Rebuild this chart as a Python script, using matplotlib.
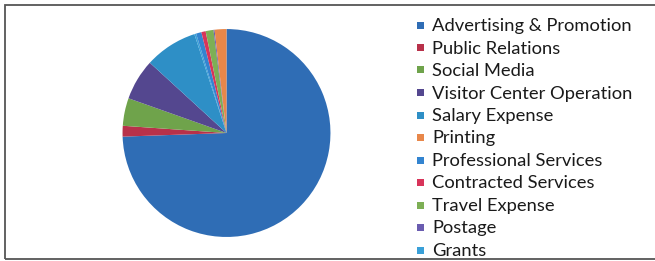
import matplotlib
matplotlib.use("Agg")
import matplotlib.pyplot as plt
from matplotlib.patches import Rectangle

# Legend order (categories) and their colors
categories = ["Advertising & Promotion", "Public Relations", "Social Media",
              "Visitor Center Operation", "Salary Expense", "Printing",
              "Professional Services", "Contracted Services", "Travel Expense",
              "Postage", "Grants"]
colors = ["#2F6DB5", "#B8314A", "#6FA34B", "#54478F", "#2E8FC6", "#E8874A",
          "#3384D0", "#D8345A", "#7DAF55", "#6A5CB0", "#3AA0D8"]
# Values in degrees-share
values = {"Advertising & Promotion": 268.0, "Public Relations": 6.0,
          "Social Media": 15.5, "Visitor Center Operation": 23.0,
          "Salary Expense": 29.5, "Grants": 1.0, "Professional Services": 3.0,
          "Contracted Services": 2.4, "Travel Expense": 4.4, "Postage": 0.6,
          "Printing": 6.6}
# order of slices clockwise from 12 o'clock as seen in the chart
pie_order = ["Advertising & Promotion", "Public Relations", "Social Media",
             "Visitor Center Operation", "Salary Expense", "Grants",
             "Professional Services", "Contracted Services", "Travel Expense",
             "Postage", "Printing"]

W, H = 655, 261
fig = plt.figure(figsize=(W / 100, H / 100), dpi=100)
fig.patch.set_facecolor("white")

cmap = dict(zip(categories, colors))
ax = fig.add_axes([0.1855, 0.0881, 0.3206, 0.8046])
ax.pie([values[c] for c in pie_order], colors=[cmap[c] for c in pie_order],
       startangle=90, counterclock=False, radius=1.0,
       wedgeprops=dict(linewidth=0))
ax.set_xlim(-1.01, 1.01)
ax.set_ylim(-1.01, 1.01)
ax.set_aspect("auto")
ax.axis("off")

# Chart border
fig.add_artist(Rectangle((5 / W, 1 - 259 / H), (W + 10) / W, (259 - 4.5) / H,
                         transform=fig.transFigure, fill=False,
                         edgecolor="#555555", linewidth=1.3, clip_on=False))

# Legend
y0, dy = 25, 22.5
for i, (lab, col) in enumerate(zip(categories, colors)):
    y = y0 + i * dy
    fig.add_artist(Rectangle((417 / W, 1 - (y + 3.5) / H), 7 / W, 7 / H,
                             transform=fig.transFigure, facecolor=col,
                             edgecolor="none"))
    fig.text(432 / W, 1 - (y + 1) / H, lab, fontsize=13.2, family="Lato",
             color="#1a1a1a", va="center", ha="left")

fig.savefig("out.png", dpi=100, facecolor="white")
